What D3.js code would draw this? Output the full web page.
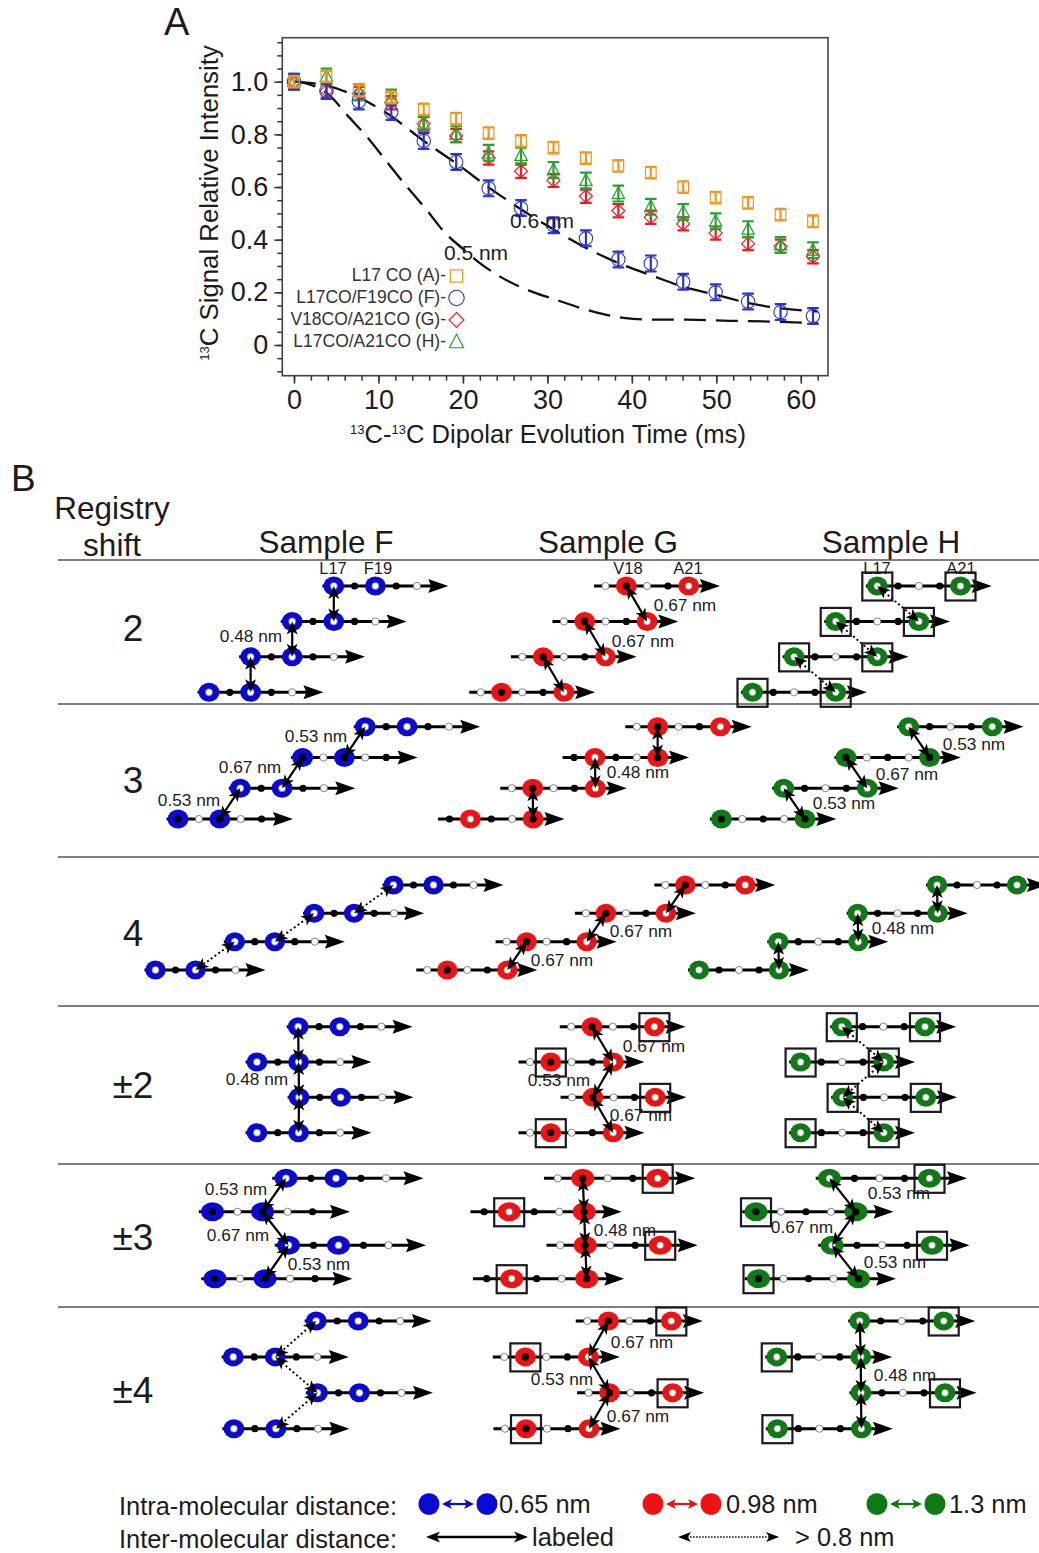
<!DOCTYPE html>
<html>
<head>
<meta charset="utf-8">
<script src="https://cdn.jsdelivr.net/npm/d3@7"></script>
<style>
  body { margin: 0; background: #fff; }
  text { font-family: "Liberation Sans", Arial, sans-serif; fill: #1c1c1c; }
</style>
</head>
<body>
<div id="chart"></div>
<script>
// ---------- panel A values ----------
const times = [0, 3.84, 7.68, 11.52, 15.36, 19.2, 23.04, 26.88, 30.72, 34.56, 38.4, 42.24, 46.08, 49.92, 53.76, 57.6, 61.44];
const seriesA = [1.0, 1.02, 0.965, 0.94, 0.895, 0.86, 0.805, 0.775, 0.75, 0.71, 0.68, 0.655, 0.6, 0.56, 0.54, 0.495, 0.47];
const seriesF = [1.0, 0.965, 0.925, 0.885, 0.775, 0.695, 0.595, 0.52, 0.455, 0.405, 0.325, 0.31, 0.24, 0.2, 0.165, 0.125, 0.11];
const seriesG = [1.0, 0.965, 0.955, 0.92, 0.84, 0.795, 0.71, 0.66, 0.625, 0.565, 0.51, 0.485, 0.46, 0.425, 0.385, 0.375, 0.335];
const seriesH = [1.0, 1.02, 0.96, 0.94, 0.84, 0.8, 0.73, 0.72, 0.665, 0.625, 0.575, 0.525, 0.505, 0.47, 0.44, 0.38, 0.36];
const errA = 0.022, errF = 0.03, errG = 0.025, errH = 0.03;

const curve06t = [0, 4, 7.5, 11, 15.5, 19.2, 23.2, 27, 30.5, 34.7, 38.5, 42.5, 46.2, 50, 54, 57.7, 62];
const curve06v = [1.0, 0.984, 0.943, 0.88, 0.772, 0.69, 0.595, 0.513, 0.443, 0.367, 0.31, 0.262, 0.22, 0.19, 0.158, 0.139, 0.127];
const curve05t = [0, 1.3, 4.3, 6.27, 8.76, 11.1, 13.5, 15.7, 17.9, 20, 22, 24.7, 28.3, 31.1, 34, 36.5, 39, 41.5, 46.5, 51.5, 56.5, 62];
const curve05v = [1.0, 0.995, 0.945, 0.874, 0.786, 0.691, 0.596, 0.513, 0.425, 0.365, 0.311, 0.254, 0.201, 0.171, 0.14, 0.118, 0.103, 0.097, 0.096, 0.092, 0.089, 0.083];

const legendNames = ["L17 CO (A)-", "L17CO/F19CO (F)-", "V18CO/A21CO (G)-", "L17CO/A21CO (H)-"];

// ---------- panel B values ----------
const rowNames = ["2", "3", "4", "±2", "±3", "±4"];
const sampleNames = ["F", "G", "H"];
// labelled residue positions along each strand
const spinIndex = {F: [0, 2], G: [1, 4], H: [0, 4]};
// strand register, bottom strand first, in residues
const strandOffsets = [
  [0, 2, 4, 6],
  [0, 2.98, 5.96, 8.96],
  [0, 3.965, 7.93, 11.9],
  [0, 2.02, 0, 1.98],
  [0, 2.94, -0.1, 2.84],
  [0, 3.98, -0.03, 3.92]
];
// 1 where the first residue of the bottom strand is the black one
const firstBlack = [0, 1, 0, 0, 1, 0];
const dottedLinks = ["2|H", "4|F", "±2|H", "±4|F"];
// which spin of each strand is boxed (bottom strand first), "a" is both
const boxedSpins = {
  "2|H": ["a", "a", "a", "a"],
  "±2|G": [0, 1, 0, 1],
  "±2|H": ["a", "a", "a", "a"],
  "±3|G": [0, 1, 0, 1],
  "±3|H": [0, 1, 0, 1],
  "±4|G": [0, 1, 0, 1],
  "±4|H": [0, 1, 0, 1]
};
const residueNames = ["L17", "F19", "V18", "A21", "L17", "A21"];
const distanceNames = ["0.48 nm", "0.53 nm", "0.67 nm"];

// ---------- layout ----------
const width = 1039, height = 1553;
const rowLines = [560, 704, 857, 1006, 1164, 1307];
const rowCenters = [628, 780, 933, 1085, 1237, 1390];
const rowSpacing = [20.8, 20.9, 20, 20.8, 25, 21];
const rowLevels = [[692.3, 586], [819, 726.7], [970, 885], [1132.7, 1026.7], [1278.7, 1178.3], [1428.7, 1321]];
const rowStarts = [
  [209, 480.7, 752.5],
  [178, 449.5, 721.4],
  [155.5, 427.3, 699],
  [257, 530, 800.6],
  [215, 486.7, 758.5],
  [233.9, 505, 777.4]
];
const sampleHeaderX = [326, 608, 891];
const residueLabelX = [333, 378, 628, 688, 877, 961];
// row, name index, centre x, centre y
const distanceLabels = [
  [0, 0, 251, 636], [0, 2, 685, 605], [0, 2, 643, 641],
  [1, 1, 189, 800], [1, 2, 250, 767], [1, 1, 316, 736], [1, 0, 638, 772],
  [1, 1, 974, 744], [1, 2, 907, 774], [1, 1, 844, 803],
  [2, 2, 641, 931], [2, 2, 562, 960], [2, 0, 903, 928],
  [3, 0, 257, 1079], [3, 2, 654, 1046], [3, 1, 559, 1080], [3, 2, 641, 1115],
  [4, 1, 236, 1189], [4, 2, 238, 1235], [4, 1, 319, 1264], [4, 0, 625, 1230],
  [4, 1, 899, 1193], [4, 2, 802, 1227], [4, 1, 895, 1262],
  [5, 2, 642, 1342], [5, 1, 562, 1379], [5, 2, 638, 1416], [5, 0, 905, 1375]
];

const colorA = "#f7941e", colorF = "#2a35d0", colorG = "#ee1c25", colorH = "#22a52a";
const spinColors = {F: "#0a0ad2", G: "#f01212", H: "#0e7a14"};

const svg = d3.select("#chart").append("svg")
    .attr("width", width)
    .attr("height", height)
    .style("display", "block");

// ---------- panel A ----------
const x = d3.scaleLinear().domain([0, 60]).range([294, 800.8]);
const y = d3.scaleLinear().domain([0, 1]).range([345, 81.7]);
const frame = {left: 282.3, right: 828, top: 37.7, bottom: 375.7};

svg.append("text").attr("x", 164).attr("y", 35).style("font-size", "38px").text("A");

svg.append("rect")
    .attr("x", frame.left).attr("y", frame.top)
    .attr("width", frame.right - frame.left).attr("height", frame.bottom - frame.top)
    .attr("fill", "none").attr("stroke", "#444").attr("stroke-width", 1.6);

const xAxis = d3.axisBottom(x).tickValues(d3.range(0, 61, 10)).tickFormat(d3.format("d")).tickSize(8).tickPadding(6);
const xMinor = d3.axisBottom(x).tickValues(d3.range(0, 63, 2)).tickFormat("").tickSize(5);
const yAxis = d3.axisLeft(y).tickValues([0, 0.2, 0.4, 0.6, 0.8, 1.0])
    .tickFormat(d => d === 0 ? "0" : d3.format(".1f")(d)).tickSize(8).tickPadding(6);
const yMinor = d3.axisLeft(y).tickValues(d3.range(-0.1, 1.16, 0.05)).tickFormat("").tickSize(5);

[xMinor, xAxis].forEach(a => {
  const g = svg.append("g").attr("transform", `translate(0,${frame.bottom})`).call(a);
  g.select(".domain").remove();
  g.selectAll("line").attr("stroke", "#333").attr("stroke-width", 1.5);
  g.selectAll("text").style("font-size", "27px");
});
[yMinor, yAxis].forEach(a => {
  const g = svg.append("g").attr("transform", `translate(${frame.left},0)`).call(a);
  g.select(".domain").remove();
  g.selectAll("line").attr("stroke", "#333").attr("stroke-width", 1.5);
  g.selectAll("text").style("font-size", "27px");
});

// axis titles, with the small 13 as tspans
const xTitle = svg.append("text").attr("x", 548).attr("y", 443).attr("text-anchor", "middle").style("font-size", "25.6px");
xTitle.append("tspan").attr("dy", -9).style("font-size", "13px").text("13");
xTitle.append("tspan").attr("dy", 9).text("C-");
xTitle.append("tspan").attr("dy", -9).style("font-size", "13px").text("13");
xTitle.append("tspan").attr("dy", 9).text("C Dipolar Evolution Time (ms)");

const yTitle = svg.append("text").attr("transform", "translate(218,203) rotate(-90)").attr("text-anchor", "middle").style("font-size", "25.8px");
yTitle.append("tspan").attr("dy", -9).style("font-size", "13px").text("13");
yTitle.append("tspan").attr("dy", 9).text("C Signal Relative Intensity");

// dashed simulation curves
const curveLine = d3.line().x(d => x(d[0])).y(d => y(d[1])).curve(d3.curveMonotoneX);
[[curve06t, curve06v], [curve05t, curve05v]].forEach(c => {
  svg.append("path")
      .attr("d", curveLine(d3.zip(c[0], c[1])))
      .attr("fill", "none").attr("stroke", "#111").attr("stroke-width", 2.3)
      .attr("stroke-dasharray", "22 10");
});

function drawMarker(g, shape, px, py, color, scale) {
  const s = scale || 1;
  if (shape === "square") {
    g.append("rect").attr("x", px - 5.3 * s).attr("y", py - 5.3 * s).attr("width", 10.6 * s).attr("height", 10.6 * s)
        .attr("fill", "none").attr("stroke", color).attr("stroke-width", 1.2);
  } else if (shape === "circle") {
    g.append("circle").attr("cx", px).attr("cy", py).attr("r", 6.7 * s)
        .attr("fill", "none").attr("stroke", color).attr("stroke-width", 1.1);
  } else if (shape === "diamond") {
    g.append("path").attr("d", `M${px},${py - 6.5 * s}L${px + 6.5 * s},${py}L${px},${py + 6.5 * s}L${px - 6.5 * s},${py}Z`)
        .attr("fill", "none").attr("stroke", color).attr("stroke-width", 1.2);
  } else {
    g.append("path").attr("d", `M${px},${py - 6.8 * s}L${px + 6.2 * s},${py + 5 * s}L${px - 6.2 * s},${py + 5 * s}Z`)
        .attr("fill", "none").attr("stroke", color).attr("stroke-width", 1.2);
  }
}

const dataG = svg.append("g");
[
  {vals: seriesG, err: errG, color: colorG, shape: "diamond"},
  {vals: seriesH, err: errH, color: colorH, shape: "triangle"},
  {vals: seriesF, err: errF, color: colorF, shape: "circle"},
  {vals: seriesA, err: errA, color: colorA, shape: "square"}
].forEach(s => {
  s.vals.forEach((v, i) => {
    const px = x(times[i]);
    dataG.append("path")
        .attr("d", `M${px - 5.8},${y(v + s.err)}H${px + 5.8}M${px - 5.8},${y(v - s.err)}H${px + 5.8}M${px},${y(v + s.err)}V${y(v - s.err)}`)
        .attr("fill", "none").attr("stroke", s.color).attr("stroke-width", 2.2);
    drawMarker(dataG, s.shape, px, y(v), s.color);
  });
});

svg.append("text").attr("x", 542).attr("y", 228).attr("text-anchor", "middle").style("font-size", "21px").text("0.6 nm");
svg.append("text").attr("x", 476).attr("y", 260).attr("text-anchor", "middle").style("font-size", "21px").text("0.5 nm");

// legend of panel A
const legendY = [275, 297, 319, 341];
const legendShape = ["square", "circle", "diamond", "triangle"];
const legendColor = [colorA, colorF, colorG, colorH];
legendNames.forEach((n, i) => {
  svg.append("text").attr("x", 446).attr("y", legendY[i] + 6).attr("text-anchor", "end")
      .style("font-size", "17.5px").style("fill", "#333").text(n);
  drawMarker(svg, legendShape[i], 456.5, legendY[i] + 1, legendColor[i], 1.15);
});

// ---------- panel B ----------
svg.append("text").attr("x", 11).attr("y", 491).style("font-size", "37px").text("B");
svg.append("text").attr("x", 112).attr("y", 519).attr("text-anchor", "middle").style("font-size", "31.5px").text("Registry");
svg.append("text").attr("x", 112).attr("y", 556).attr("text-anchor", "middle").style("font-size", "31.5px").text("shift");
sampleNames.forEach((s, i) => {
  svg.append("text").attr("x", sampleHeaderX[i]).attr("y", 553).attr("text-anchor", "middle")
      .style("font-size", "31.5px").text("Sample " + s);
});

rowLines.forEach(ly => {
  svg.append("line").attr("x1", 58).attr("x2", width).attr("y1", ly).attr("y2", ly)
      .attr("stroke", "#555").attr("stroke-width", 1.4);
});

residueNames.forEach((n, i) => {
  svg.append("text").attr("x", residueLabelX[i]).attr("y", 574).attr("text-anchor", "middle")
      .style("font-size", "16.5px").text(n);
});

function arrowHead(g, tipX, tipY, fromX, fromY, len, half, color, notch) {
  const a = Math.atan2(fromY - tipY, fromX - tipX);
  const ca = Math.cos(a), sa = Math.sin(a);
  const n = notch || 0.75;
  const pts = [
    [tipX, tipY],
    [tipX + len * ca - half * sa, tipY + len * sa + half * ca],
    [tipX + len * n * ca, tipY + len * n * sa],
    [tipX + len * ca + half * sa, tipY + len * sa - half * ca]
  ];
  g.append("polygon").attr("points", pts.map(p => p.join(",")).join(" ")).attr("fill", color);
}

function doubleArrow(g, x1, y1, x2, y2, opts) {
  const len = Math.hypot(x2 - x1, y2 - y1);
  const ux = (x2 - x1) / len, uy = (y2 - y1) / len;
  const inset = opts.len * 0.7;
  g.append("line")
      .attr("x1", x1 + ux * inset).attr("y1", y1 + uy * inset)
      .attr("x2", x2 - ux * inset).attr("y2", y2 - uy * inset)
      .attr("stroke", opts.color).attr("stroke-width", opts.width)
      .attr("stroke-dasharray", opts.dash || null);
  arrowHead(g, x1, y1, x2, y2, opts.len, opts.half, opts.color);
  arrowHead(g, x2, y2, x1, y1, opts.len, opts.half, opts.color);
}

rowNames.forEach((rowName, r) => {
  svg.append("text").attr("x", 133).attr("y", rowCenters[r] + 13).attr("text-anchor", "middle")
      .style("font-size", "37px").text(rowName);

  const yLevel = d3.scaleLinear().domain([0, 3]).range(rowLevels[r]);
  const spacing = rowSpacing[r];
  const swing = r >= 3;   // the +/- rows go back and forth

  sampleNames.forEach((sample, c) => {
    const xRes = d3.scaleLinear().domain([0, 1]).range([rowStarts[r][c], rowStarts[r][c] + spacing]);
    const key = rowName + "|" + sample;
    const spins = spinIndex[sample];
    const panel = svg.append("g").attr("class", "panel");

    strandOffsets[r].forEach((off, level) => {
      const sy = yLevel(level);
      const tip = xRes(off + 4) + spacing * 1.5;
      panel.append("line")
          .attr("x1", xRes(off) - spacing * 0.55).attr("x2", tip - 8)
          .attr("y1", sy).attr("y2", sy)
          .attr("stroke", "#000").attr("stroke-width", 3);
      arrowHead(panel, tip, sy, xRes(off), sy, 20, 7, "#000", 0.85);

      spins.forEach(i => {
        panel.append("ellipse")
            .attr("cx", xRes(off + i)).attr("cy", sy)
            .attr("rx", 10.4 + (spacing - 20.8) * 0.25).attr("ry", 9.5)
            .attr("fill", spinColors[sample]);
      });
      d3.range(5).forEach(i => {
        const white = (i + Math.round(off) + firstBlack[r]) % 2 === 0;
        panel.append("circle")
            .attr("cx", xRes(off + i)).attr("cy", sy).attr("r", white ? 3.6 : 3.6)
            .attr("fill", white ? "#fff" : "#000")
            .attr("stroke", white ? "#555" : "none").attr("stroke-width", 0.7);
      });
    });

    // inter-strand contacts
    const dotted = dottedLinks.includes(key);
    d3.range(3).forEach(k => {
      const upper = strandOffsets[r][k + 1], lower = strandOffsets[r][k];
      let x1, x2;
      if (swing && k % 2 === 1) {
        x1 = xRes(upper + spins[1]);
        x2 = xRes(lower + spins[0]);
      } else {
        x1 = xRes(upper + spins[0]);
        x2 = xRes(lower + spins[1]);
      }
      doubleArrow(panel, x1, yLevel(k + 1), x2, yLevel(k), {
        len: 13, half: 5.5, color: "#000", width: dotted ? 1.9 : 2.2,
        dash: dotted ? "2 2.6" : null
      });
    });

    // boxes round the spins
    const boxes = boxedSpins[key];
    if (boxes) {
      strandOffsets[r].forEach((off, level) => {
        const which = boxes[level] === "a" ? [0, 1] : [boxes[level]];
        which.forEach(w => {
          panel.append("rect")
              .attr("x", xRes(off + spins[w]) - 15).attr("y", yLevel(level) - 13.5)
              .attr("width", 30).attr("height", 28)
              .attr("fill", "none").attr("stroke", "#1a1a1a").attr("stroke-width", 2.2);
        });
      });
    }
  });
});

distanceLabels.forEach(d => {
  svg.append("text").attr("x", d[2]).attr("y", d[3] + 6).attr("text-anchor", "middle")
      .style("font-size", "17.3px").text(distanceNames[d[1]]);
});

// ---------- bottom key ----------
const keyNames = ["0.65 nm", "0.98 nm", "1.3 nm"];
const keyColors = [spinColors.F, spinColors.G, spinColors.H];
const keyX = [429, 653, 877];
const keyTextX = [499, 726, 949];
const keyRow = 1504;

svg.append("text").attr("x", 119).attr("y", 1515).style("font-size", "25.4px").text("Intra-molecular distance:");
svg.append("text").attr("x", 119).attr("y", 1548).style("font-size", "25.4px").text("Inter-molecular distance:");

keyNames.forEach((n, i) => {
  svg.append("ellipse").attr("cx", keyX[i]).attr("cy", keyRow).attr("rx", 10.5).attr("ry", 10.8).attr("fill", keyColors[i]);
  svg.append("ellipse").attr("cx", keyX[i] + 58).attr("cy", keyRow).attr("rx", 10.5).attr("ry", 10.8).attr("fill", keyColors[i]);
  doubleArrow(svg, keyX[i] + 13, keyRow, keyX[i] + 45, keyRow, {len: 10, half: 5, color: keyColors[i], width: 2.2});
  svg.append("text").attr("x", keyTextX[i]).attr("y", keyRow + 9).style("font-size", "25.4px").text(n);
});

doubleArrow(svg, 426, 1537, 528, 1537, {len: 14, half: 5.5, color: "#000", width: 2.4});
svg.append("text").attr("x", 532).attr("y", 1546).style("font-size", "25.4px").text("labeled");
doubleArrow(svg, 678, 1537, 779, 1537, {len: 13, half: 5, color: "#000", width: 1.5, dash: "1.5 1.5"});
svg.append("text").attr("x", 795).attr("y", 1546).style("font-size", "25.4px").text("> 0.8 nm");
</script>
</body>
</html>
